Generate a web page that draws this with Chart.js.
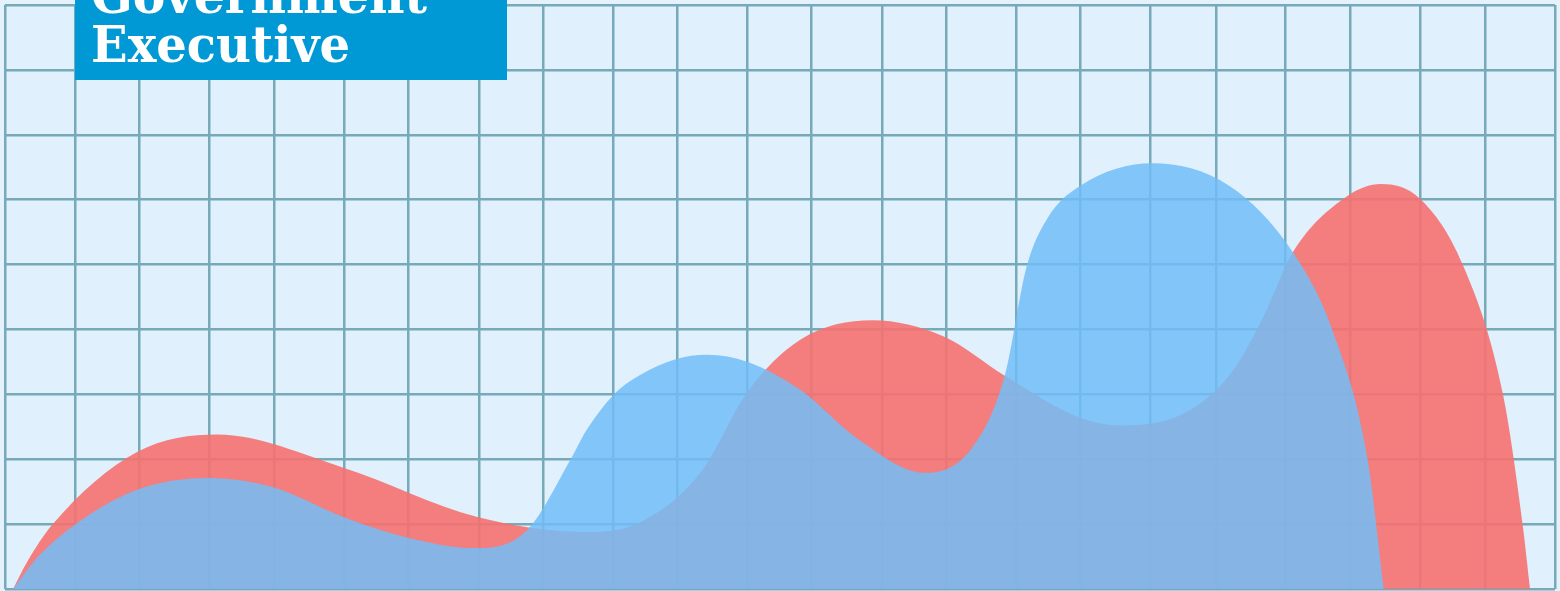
<!DOCTYPE html>
<html lang="en">
<head>
    <meta charset="UTF-8">
    <title>Government Executive</title>
    <script src="https://cdn.jsdelivr.net/npm/chart.js@4.4.0/dist/chart.umd.min.js"></script>
    <style>
        html, body { margin: 0; padding: 0; background: #e5f2fc; }
        .wrap { position: relative; width: 1560px; height: 591px; overflow: hidden; }
        .logo { position: absolute; left: 75px; top: 0; width: 432px; height: 80px; background: #0098d5; overflow: hidden; }
        .logo span { position: absolute; left: 16px; font-family: 'DejaVu Serif', serif; font-weight: bold;
                     font-size: 50px; line-height: 1; color: #fff; white-space: nowrap; transform-origin: 0 0; }
    </style>
</head>
<body>
    <div class="wrap">
        <canvas id="chart" width="1560" height="591"></canvas>
        <div class="logo">
            <span id="line1" style="top:-29px">Government</span>
            <span id="line2" style="top:20px">Executive</span>
        </div>
    </div>

    <script>
        // vertical grid positions (grid units, slightly uneven like the artwork)
        const gridX = [0, 1.04, 1.99, 3.03, 3.99, 5.03, 5.98, 7.04, 7.99, 9.03, 9.98, 11.02,
                       11.97, 13.01, 13.96, 15.01, 15.96, 17.0, 17.97, 19.0, 19.96, 21.0, 21.96, 23];

        // blue series
        const blueX = [0.12, 0.45, 1.05, 1.96, 3.03, 4.00, 5.02, 5.98, 6.96, 7.75, 8.39, 8.63, 9.03,
                       9.43, 9.95, 10.42, 11.02, 11.80, 12.67, 13.65, 14.36, 14.83, 15.16, 15.46,
                       15.95, 17.03, 18.17, 19.11, 19.70, 20.22, 20.46];
        const blueY = [0, 0.45, 1.00, 1.53, 1.71, 1.56, 1.11, 0.79, 0.63, 0.91, 1.99, 2.45, 2.99,
                       3.30, 3.54, 3.61, 3.50, 3.07, 2.30, 1.79, 2.19, 3.27, 4.97, 5.70,
                       6.21, 6.56, 6.21, 5.19, 3.98, 1.99, 0];

        // red series
        const redX = [0.12, 0.33, 0.71, 1.96, 3.15, 5.02, 7.01, 8.63, 9.43, 10.32, 11.02, 11.80,
                      12.87, 13.93, 14.83, 15.95, 16.59, 17.54, 18.23, 18.69, 19.11, 19.91, 20.42,
                      21.00, 21.63, 22.23, 22.52, 22.63];
        const redY = [0, 0.42, 1.00, 2.11, 2.38, 1.87, 1.11, 0.88, 1.03, 1.79, 3.04, 3.84,
                      4.14, 3.89, 3.29, 2.64, 2.52, 2.73, 3.38, 4.23, 5.19, 6.05, 6.24,
                      6.01, 5.00, 2.99, 0.99, 0];

        const toPoints = (xs, ys) => xs.map((x, i) => ({ x: x, y: ys[i] }));

        const bgPlugin = {
            id: 'bg',
            beforeDraw(chart) {
                const { ctx, chartArea: a } = chart;
                ctx.save();
                ctx.fillStyle = '#e0f0fd';
                ctx.fillRect(a.left, a.top, a.right - a.left, a.bottom - a.top);
                ctx.restore();
            }
        };

        new Chart(document.getElementById('chart'), {
            type: 'line',
            data: {
                datasets: [
                    {
                        label: 'Blue',
                        data: toPoints(blueX, blueY),
                        backgroundColor: 'rgba(113, 189, 247, 0.85)',
                        borderWidth: 0,
                        fill: 'origin'
                    },
                    {
                        label: 'Red',
                        data: toPoints(redX, redY),
                        backgroundColor: 'rgba(246, 113, 112, 0.9)',
                        borderWidth: 0,
                        fill: 'origin'
                    }
                ]
            },
            options: {
                responsive: false,
                animation: false,
                events: [],
                elements: { point: { radius: 0 }, line: { cubicInterpolationMode: 'monotone' } },
                layout: { padding: { left: 5, top: 5, right: 5, bottom: 2 } },
                plugins: { legend: { display: false }, tooltip: { enabled: false } },
                scales: {
                    x: {
                        type: 'linear', min: 0, max: 23,
                        afterBuildTicks: axis => { axis.ticks = gridX.map(v => ({ value: v })); },
                        ticks: { display: false },
                        border: { display: false },
                        grid: { color: '#77aab8', lineWidth: 2.5, drawTicks: false }
                    },
                    y: {
                        min: 0, max: 9,
                        ticks: { display: false, stepSize: 1 },
                        border: { display: false },
                        grid: { color: '#77aab8', lineWidth: 2.5, drawTicks: false }
                    }
                }
            },
            plugins: [bgPlugin]
        });

        // squeeze the logo words to the widths seen in the artwork
        const mctx = document.createElement('canvas').getContext('2d');
        mctx.font = 'bold 50px "DejaVu Serif"';
        [['line1', 'Government', 336], ['line2', 'Executive', 259]].forEach(([id, txt, w]) => {
            const s = w / mctx.measureText(txt).width;
            document.getElementById(id).style.transform = 'scaleX(' + s + ')';
        });
    </script>
</body>
</html>
